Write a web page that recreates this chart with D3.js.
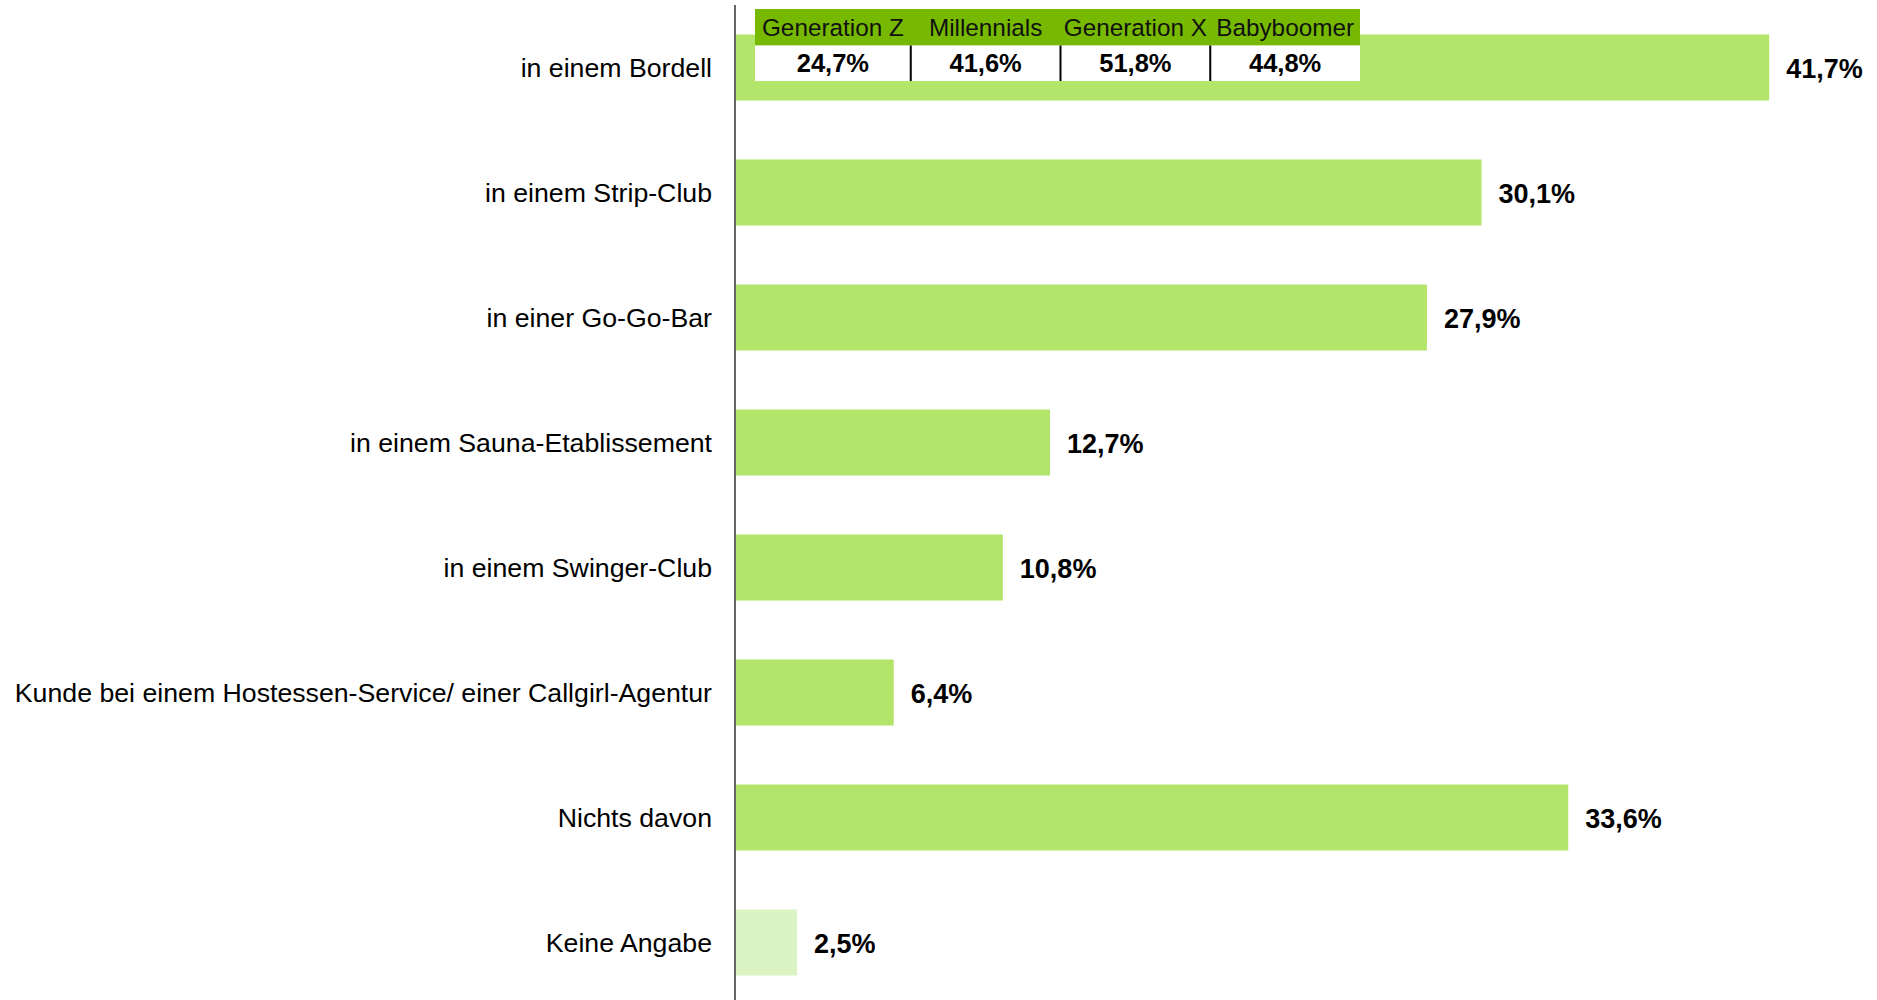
<!DOCTYPE html>
<html>
<head>
<meta charset="utf-8">
<script src="https://cdn.jsdelivr.net/npm/d3@7"></script>
<style>
  html, body { margin: 0; padding: 0; background: #ffffff; }
  svg { display: block; font-family: "Liberation Sans", Arial, sans-serif; }
</style>
</head>
<body>
<svg id="chart" width="1877" height="1000"></svg>
<script>
// Categories and shares (in %)
const categories = [
  "in einem Bordell",
  "in einem Strip-Club",
  "in einer Go-Go-Bar",
  "in einem Sauna-Etablissement",
  "in einem Swinger-Club",
  "Kunde bei einem Hostessen-Service/ einer Callgirl-Agentur",
  "Nichts davon",
  "Keine Angabe"
];
const values = [41.7, 30.1, 27.9, 12.7, 10.8, 6.4, 33.6, 2.5];

// Breakdown of the first category by generation
const generations = ["Generation Z", "Millennials", "Generation X", "Babyboomer"];
const generationValues = [24.7, 41.6, 51.8, 44.8];

const fmt = v => v.toFixed(1).replace(".", ",") + "%";

const svg = d3.select("#chart");

const x = d3.scaleLinear().domain([0, 45]).range([735, 1851]);
const y = d3.scaleBand().domain(categories).range([5, 1005])
  .paddingInner(0.472).paddingOuter(0.236);

const barColor = d => d === "Keine Angabe" ? "#dcf4c4" : "#b2e56a";

// Bars
svg.append("g").selectAll("rect")
  .data(categories)
  .join("rect")
  .attr("x", x(0))
  .attr("y", d => y(d))
  .attr("width", (d, i) => x(values[i]) - x(0))
  .attr("height", y.bandwidth())
  .attr("fill", barColor);

// Category labels
svg.append("g").selectAll("text")
  .data(categories)
  .join("text")
  .attr("x", 712)
  .attr("y", d => y(d) + y.bandwidth() / 2 + 9)
  .attr("text-anchor", "end")
  .attr("font-size", 26.7)
  .attr("fill", "#000")
  .text(d => d);

// Value labels
svg.append("g").selectAll("text")
  .data(categories)
  .join("text")
  .attr("x", (d, i) => x(values[i]) + 17)
  .attr("y", d => y(d) + y.bandwidth() / 2 + 10)
  .attr("font-size", 27)
  .attr("font-weight", "bold")
  .attr("fill", "#000")
  .text((d, i) => fmt(values[i]));

// Vertical category axis
svg.append("line")
  .attr("x1", x(0)).attr("x2", x(0))
  .attr("y1", 5).attr("y2", 1000)
  .attr("stroke", "#666").attr("stroke-width", 2);

// Generation table laid over the first bar
const col = d3.scaleBand().domain(generations).range([761, 1360]);
const table = svg.append("g");
table.append("rect")
  .attr("x", 755).attr("y", 9).attr("width", 605).attr("height", 36.5)
  .attr("fill", "#76b900");
table.append("rect")
  .attr("x", 755).attr("y", 45.5).attr("width", 605).attr("height", 35.5)
  .attr("fill", "#ffffff");

table.selectAll("text.head")
  .data(generations)
  .join("text")
  .attr("class", "head")
  .attr("x", (d, i) => (i === 0 ? 755 : col(d)) / 2 + (col(d) + col.bandwidth()) / 2)
  .attr("y", 36)
  .attr("text-anchor", "middle")
  .attr("font-size", 24.3)
  .attr("fill", "#111")
  .text(d => d);

table.selectAll("text.val")
  .data(generations)
  .join("text")
  .attr("class", "val")
  .attr("x", (d, i) => (i === 0 ? 755 : col(d)) / 2 + (col(d) + col.bandwidth()) / 2)
  .attr("y", 72)
  .attr("text-anchor", "middle")
  .attr("font-size", 25.5)
  .attr("font-weight", "bold")
  .attr("fill", "#000")
  .text((d, i) => fmt(generationValues[i]));

table.selectAll("line.sep")
  .data(generations.slice(1))
  .join("line")
  .attr("class", "sep")
  .attr("x1", d => col(d)).attr("x2", d => col(d))
  .attr("y1", 45.5).attr("y2", 81)
  .attr("stroke", "#000").attr("stroke-width", 2);
</script>
</body>
</html>
